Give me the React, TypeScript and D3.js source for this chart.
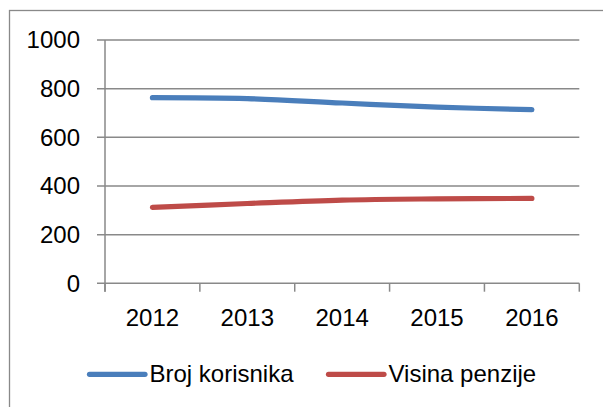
import React from "react";
import * as d3 from "d3";

const categories = ["2012", "2013", "2014", "2015", "2016"];
const brojKorisnika = [763, 759, 741, 724, 714];
const visinaPenzije = [312, 328, 342, 347, 349];
const yTicks = [0, 200, 400, 600, 800, 1000];
const seriesNames = ["Broj korisnika", "Visina penzije"];
const seriesColors = ["#4a7ebb", "#be4b48"];

const W = 603;
const H = 407;
const LEFT = 105;
const RIGHT = 579.3;
const TOP = 40;
const BOTTOM = 283.3;
const GRID = "#898989";
const FONT = "'Liberation Sans', Arial, sans-serif";

export default function App() {
  const x = d3.scaleBand<string>().domain(categories).range([LEFT, RIGHT]);
  const y = d3.scaleLinear().domain([0, 1000]).range([BOTTOM, TOP]);
  const cx = (c: string) => (x(c) as number) + x.bandwidth() / 2;
  const line = d3
    .line<number>()
    .x((_, i) => cx(categories[i]))
    .y((d) => y(d))
    .curve(d3.curveCatmullRom.alpha(0.5));
  const series = [brojKorisnika, visinaPenzije];
  const boundaries = [...categories.map((c) => x(c) as number), RIGHT];

  return (
    <svg
      width={W}
      height={H}
      style={{ position: "absolute", left: 0, top: 0, background: "#fff" }}
      fontFamily={FONT}
    >
      <rect x={0} y={0} width={W} height={H} fill="#fff" />
      <rect x={9.5} y={10.5} width={W + 20} height={H + 20} fill="none" stroke={GRID} strokeWidth={1.3} />
      {yTicks.map((t) => (
        <g key={t}>
          <line x1={97} x2={RIGHT} y1={y(t)} y2={y(t)} stroke={GRID} strokeWidth={1.5} />
          <text x={80} y={y(t)} dy="0.35em" textAnchor="end" fontSize={24} fill="#000">
            {t}
          </text>
        </g>
      ))}
      <line x1={LEFT} x2={LEFT} y1={TOP} y2={BOTTOM + 8.4} stroke={GRID} strokeWidth={1.5} />
      {boundaries.map((b, i) => (
        <line key={i} x1={b} x2={b} y1={BOTTOM} y2={BOTTOM + 8.4} stroke={GRID} strokeWidth={1.5} />
      ))}
      {categories.map((c) => (
        <text key={c} x={cx(c)} y={326} textAnchor="middle" fontSize={24} fill="#000">
          {c}
        </text>
      ))}
      {series.map((s, i) => (
        <path
          key={i}
          d={line(s) || ""}
          fill="none"
          stroke={seriesColors[i]}
          strokeWidth={5.2}
          strokeLinecap="round"
          strokeLinejoin="round"
        />
      ))}
      {[
        { x1: 89.5, x2: 145, tx: 149.5 },
        { x1: 328.5, x2: 384, tx: 388.5 },
      ].map((l, i) => (
        <g key={i}>
          <line x1={l.x1} x2={l.x2} y1={374.3} y2={374.3} stroke={seriesColors[i]} strokeWidth={5.2} strokeLinecap="round" />
          <text x={l.tx} y={382} fontSize={24} fill="#000">
            {seriesNames[i]}
          </text>
        </g>
      ))}
    </svg>
  );
}
